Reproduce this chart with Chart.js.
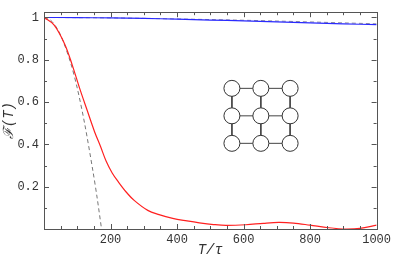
<!DOCTYPE html>
<html>
<head>
<meta charset="utf-8">
<script src="https://cdn.jsdelivr.net/npm/chart.js@4"></script>
<style>
  html, body { margin: 0; padding: 0; background: #fff; }
</style>
</head>
<body>
<canvas id="fidelityChart" width="395" height="264"></canvas>
<script>
// --- 1. DATA ---
const redT = [0, 30, 62, 85, 107, 130, 152, 170, 187, 205, 222, 247, 272, 312, 346, 387, 430, 467, 510, 547, 607, 660, 706, 750, 800, 856, 910, 950, 1000];
const redF = [1, 0.965, 0.875, 0.775, 0.666, 0.56, 0.46, 0.39, 0.32, 0.265, 0.226, 0.175, 0.134, 0.088, 0.068, 0.05, 0.038, 0.029, 0.021, 0.017, 0.02, 0.027, 0.031, 0.028, 0.018, 0.006, 0.0, 0.003, 0.018];

const gaussT = [0, 20, 40, 57, 80, 100, 122, 147, 160, 173];
const gaussF = [1, 0.987, 0.947, 0.89, 0.786, 0.666, 0.5, 0.275, 0.145, 0];

const blueT = [0, 100, 200, 300, 400, 500, 600, 700, 800, 900, 1000];
const blueF = [1, 0.9995, 0.998, 0.996, 0.992, 0.988, 0.984, 0.979, 0.975, 0.97, 0.966];

const approxT = [0, 200, 400, 600, 800, 1000];
const approxF = [1, 0.998, 0.993, 0.987, 0.979, 0.97];

// inset: 3x3 lattice of qubits (data coords)
const gridX = [565, 652, 740];
const gridY = [0.665, 0.535, 0.405];

const xTickLabels = [200, 400, 600, 800, 1000];
const yTickLabels = [0.2, 0.4, 0.6, 0.8, 1];

const toPoints = (xs, ys) => xs.map((v, i) => ({ x: v, y: ys[i] }));

// --- 2. INSET DATASETS ---
const edgeSets = [];
gridY.forEach(gy => {
    edgeSets.push({ data: gridX.map(gx => ({ x: gx, y: gy })), borderColor: '#444', borderWidth: 1, pointRadius: 0, order: 2 });
});
gridX.forEach(gx => {
    edgeSets.push({ data: gridY.map(gy => ({ x: gx, y: gy })), borderColor: '#444', borderWidth: 1, pointRadius: 0, order: 2 });
});
const nodes = [];
gridY.forEach(gy => gridX.forEach(gx => nodes.push({ x: gx, y: gy })));

// --- 3. FRAME + INWARD TICKS (Mathematica style) ---
const frameTicks = {
    id: 'frameTicks',
    afterDraw(chart) {
        const { ctx, chartArea: a, scales: { x, y } } = chart;
        ctx.save();
        ctx.strokeStyle = '#555';
        ctx.lineWidth = 1;
        ctx.strokeRect(Math.round(a.left) + 0.5, Math.round(a.top) + 0.5, Math.round(a.right - a.left), Math.round(a.bottom - a.top));
        ctx.beginPath();
        for (let i = 0; i <= 20; i++) {
            const px = Math.round(x.getPixelForValue(i * 50)) + 0.5;
            const len = i % 4 === 0 ? 5 : 3;
            ctx.moveTo(px, a.bottom); ctx.lineTo(px, a.bottom - len);
            ctx.moveTo(px, a.top); ctx.lineTo(px, a.top + len);
        }
        for (let i = 0; i <= 10; i++) {
            const py = Math.round(y.getPixelForValue(i / 10)) + 0.5;
            const len = i % 2 === 0 ? 5 : 3;
            ctx.moveTo(a.left, py); ctx.lineTo(a.left + len, py);
            ctx.moveTo(a.right, py); ctx.lineTo(a.right - len, py);
        }
        ctx.stroke();
        ctx.restore();
    }
};

// --- 4. CHART ---
new Chart(document.getElementById('fidelityChart'), {
    type: 'line',
    data: {
        datasets: [
            { data: toPoints(redT, redF), borderColor: '#ff2020', borderWidth: 1.2, pointRadius: 0, tension: 0.35, order: 3 },
            { data: toPoints(gaussT, gaussF), borderColor: '#777', borderWidth: 1, borderDash: [4, 3], pointRadius: 0, tension: 0.3, order: 3 },
            { data: toPoints(blueT, blueF), borderColor: '#2a2aff', borderWidth: 1.2, pointRadius: 0, tension: 0.4, order: 3 },
            { data: toPoints(approxT, approxF), borderColor: '#8a8a9a', borderWidth: 1, borderDash: [4, 3], pointRadius: 0, tension: 0.4, order: 4 },
            ...edgeSets,
            { data: nodes, showLine: false, pointRadius: 8, pointBackgroundColor: '#fff', pointBorderColor: '#333', pointBorderWidth: 1, order: 1 }
        ]
    },
    options: {
        responsive: false,
        animation: false,
        layout: { padding: { top: 7, right: 17, left: 0, bottom: 0 } },
        plugins: { legend: { display: false }, tooltip: { enabled: false } },
        scales: {
            x: {
                type: 'linear',
                min: 0,
                max: 1000,
                afterBuildTicks: s => { s.ticks = xTickLabels.map(v => ({ value: v })); },
                afterFit: s => { s.height = 35; },
                grid: { display: false, drawTicks: false },
                border: { display: false },
                ticks: { padding: 4, color: '#333', font: { family: 'Liberation Mono', size: 12 }, callback: v => String(v) },
                title: { display: true, text: 'T/τ', color: '#333', padding: { top: 0, bottom: 5 }, font: { family: 'Liberation Mono', style: 'italic', size: 14 } }
            },
            y: {
                min: 0,
                max: 1.025,
                afterBuildTicks: s => { s.ticks = yTickLabels.map(v => ({ value: v })); },
                afterFit: s => { s.width = 44; },
                grid: { display: false, drawTicks: false },
                border: { display: false },
                ticks: { padding: 5, color: '#333', font: { family: 'Liberation Mono', size: 12 }, callback: v => String(v) },
                title: { display: true, text: 'ℱ(T)', color: '#333', padding: { top: 1, bottom: 0 }, font: { family: 'Liberation Mono', style: 'italic', size: 14 } }
            }
        }
    },
    plugins: [frameTicks]
});
</script>
</body>
</html>
